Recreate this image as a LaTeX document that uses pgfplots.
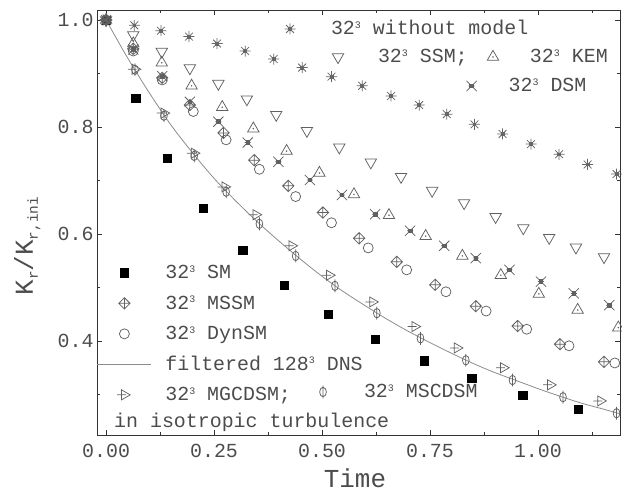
\documentclass[border=0pt]{standalone}
\usepackage{fontspec}
\setmainfont{Liberation Mono}
\usepackage{pgfplots}
\pgfplotsset{compat=1.18}

\definecolor{mk}{gray}{0.38}
\definecolor{txt}{gray}{0.3}
\definecolor{axc}{gray}{0.2}

\newcommand{\tc}{\raisebox{6.6bp}{\fontsize{10}{10}\selectfont 3}}
\newcommand{\lfont}{\fontsize{20}{22}\selectfont}

% 8-armed star with dark centre
\pgfdeclareplotmark{star8}{%
 \pgfpathmoveto{\pgfqpoint{-\pgfplotmarksize}{0pt}}\pgfpathlineto{\pgfqpoint{\pgfplotmarksize}{0pt}}%
 \pgfpathmoveto{\pgfqpoint{0pt}{-\pgfplotmarksize}}\pgfpathlineto{\pgfqpoint{0pt}{\pgfplotmarksize}}%
 \pgfpathmoveto{\pgfqpoint{-0.707\pgfplotmarksize}{-0.707\pgfplotmarksize}}\pgfpathlineto{\pgfqpoint{0.707\pgfplotmarksize}{0.707\pgfplotmarksize}}%
 \pgfpathmoveto{\pgfqpoint{-0.707\pgfplotmarksize}{0.707\pgfplotmarksize}}\pgfpathlineto{\pgfqpoint{0.707\pgfplotmarksize}{-0.707\pgfplotmarksize}}%
 \pgfusepathqstroke
 \pgfpathrectangle{\pgfqpoint{-0.25\pgfplotmarksize}{-0.25\pgfplotmarksize}}{\pgfqpoint{0.5\pgfplotmarksize}{0.5\pgfplotmarksize}}%
 \pgfusepathqfillstroke}
% X with dark centre (DSM)
\pgfdeclareplotmark{xbox}{%
 \pgfpathmoveto{\pgfqpoint{-0.85\pgfplotmarksize}{-0.85\pgfplotmarksize}}\pgfpathlineto{\pgfqpoint{0.85\pgfplotmarksize}{0.85\pgfplotmarksize}}%
 \pgfpathmoveto{\pgfqpoint{-0.85\pgfplotmarksize}{0.85\pgfplotmarksize}}\pgfpathlineto{\pgfqpoint{0.85\pgfplotmarksize}{-0.85\pgfplotmarksize}}%
 \pgfpathmoveto{\pgfqpoint{-0.5\pgfplotmarksize}{0pt}}\pgfpathlineto{\pgfqpoint{0.5\pgfplotmarksize}{0pt}}%
 \pgfusepathqstroke
 \pgfpathrectangle{\pgfqpoint{-0.3\pgfplotmarksize}{-0.3\pgfplotmarksize}}{\pgfqpoint{0.6\pgfplotmarksize}{0.6\pgfplotmarksize}}%
 \pgfusepathqfillstroke}
% triangle down
\pgfdeclareplotmark{tridown}{%
 \pgfpathmoveto{\pgfqpoint{0pt}{-\pgfplotmarksize}}%
 \pgfpathlineto{\pgfqpoint{-0.866\pgfplotmarksize}{0.5\pgfplotmarksize}}%
 \pgfpathlineto{\pgfqpoint{0.866\pgfplotmarksize}{0.5\pgfplotmarksize}}%
 \pgfpathclose\pgfusepathqstroke}
% triangle up with dot
\pgfdeclareplotmark{tridot}{%
 \pgfpathmoveto{\pgfqpoint{0pt}{\pgfplotmarksize}}%
 \pgfpathlineto{\pgfqpoint{-0.866\pgfplotmarksize}{-0.5\pgfplotmarksize}}%
 \pgfpathlineto{\pgfqpoint{0.866\pgfplotmarksize}{-0.5\pgfplotmarksize}}%
 \pgfpathclose\pgfusepathqstroke
 \pgfpathcircle{\pgfpointorigin}{0.13\pgfplotmarksize}\pgfusepathqfill}
% diamond with plus
\pgfdeclareplotmark{diamplus}{%
 \pgfpathmoveto{\pgfqpoint{0pt}{\pgfplotmarksize}}%
 \pgfpathlineto{\pgfqpoint{\pgfplotmarksize}{0pt}}%
 \pgfpathlineto{\pgfqpoint{0pt}{-\pgfplotmarksize}}%
 \pgfpathlineto{\pgfqpoint{-\pgfplotmarksize}{0pt}}%
 \pgfpathclose
 \pgfpathmoveto{\pgfqpoint{-\pgfplotmarksize}{0pt}}\pgfpathlineto{\pgfqpoint{\pgfplotmarksize}{0pt}}%
 \pgfpathmoveto{\pgfqpoint{0pt}{-\pgfplotmarksize}}\pgfpathlineto{\pgfqpoint{0pt}{\pgfplotmarksize}}%
 \pgfusepathqstroke}
% right triangle with stem
\pgfdeclareplotmark{triright}{%
 \pgfpathmoveto{\pgfqpoint{\pgfplotmarksize}{0pt}}%
 \pgfpathlineto{\pgfqpoint{-0.5\pgfplotmarksize}{0.866\pgfplotmarksize}}%
 \pgfpathlineto{\pgfqpoint{-0.5\pgfplotmarksize}{-0.866\pgfplotmarksize}}%
 \pgfpathclose
 \pgfpathmoveto{\pgfqpoint{-1.25\pgfplotmarksize}{0pt}}\pgfpathlineto{\pgfqpoint{0.3\pgfplotmarksize}{0pt}}%
 \pgfusepathqstroke}
% phi
\pgfdeclareplotmark{phi}{%
 \pgfpathellipse{\pgfpointorigin}{\pgfqpoint{0.6\pgfplotmarksize}{0pt}}{\pgfqpoint{0pt}{0.85\pgfplotmarksize}}%
 \pgfpathmoveto{\pgfqpoint{0pt}{-1.15\pgfplotmarksize}}\pgfpathlineto{\pgfqpoint{0pt}{1.15\pgfplotmarksize}}%
 \pgfusepathqstroke}

\pgfplotsset{
 mkleg/.style={legend image code/.code={\path[draw=none,fill=none] (-27bp,0bp) -- (#1,0bp);\draw[mark repeat=1,##1] plot coordinates {(0bp,0bp)};}},
 dnsleg/.style={legend image code/.code={\path[draw=none,fill=none] (-27bp,0bp) -- (41bp,0bp);\draw[##1] (-27bp,0bp) -- (27bp,0bp);}},
 geom/.style={scale only axis, width=523bp, height=425bp,
   xmin=-0.021, xmax=1.19, ymin=0.2243, ymax=1.0187},
 leg/.style={legend cell align=left,
   legend style={draw=none, fill=none, inner sep=0pt, outer sep=0pt, anchor=west,
     font=\lfont, text=txt, row sep=10.5bp,
     nodes={inner sep=0pt, text height=16bp, text depth=4bp}}},
 ovl/.style={geom, hide axis, leg},
 mstyle/.style={only marks, color=mk, mark options={solid, line width=0.75bp}},
}

\begin{document}
\begin{tikzpicture}
\begin{axis}[geom, leg,
  legend style={at={(0,0.238)}},
  xtick={0,0.25,0.5,0.75,1}, xticklabels={0.00,0.25,0.50,0.75,1.00},
  minor xtick={0.125,0.375,0.625,0.875,1.125},
  ytick={0.4,0.6,0.8,1.0}, yticklabels={0.4,0.6,0.8,1.0},
  minor ytick={0.3,0.5,0.7,0.9},
  tick align=inside,
  major tick length=5bp, minor tick length=3bp,
  tick style={line width=0.8bp, axc},
  axis line style={line width=0.8bp, axc},
  /pgf/number format/assume math mode=true,
  tick label style={font=\lfont, text=txt},
  xticklabel style={yshift=-6bp},
  xlabel={Time},
  every axis x label/.style={at={(axis description cs:0.4933,-0.1247)}, anchor=base,
     font=\fontsize{26}{28}\selectfont, text=txt},
  ylabel={K\raisebox{-5bp}{\fontsize{14.5}{15}\selectfont r}/K\raisebox{-5bp}{\fontsize{14.5}{15}\selectfont r,ini}},
  every axis y label/.style={at={(axis description cs:-0.1224,0.4447)}, anchor=base, rotate=90,
     font=\fontsize{26}{28}\selectfont, text=txt},
]
% 32^3 SM
\addplot[only marks, mark=square*, mark size=4.2bp, color=black, mkleg=41bp] coordinates {
 (0,1.0) (0.069,0.854) (0.142,0.742) (0.225,0.648) (0.316,0.570) (0.413,0.504)
 (0.515,0.450) (0.623,0.403) (0.736,0.363) (0.847,0.330) (0.965,0.299) (1.093,0.272)};
\addlegendentry{32\tc{} SM}
% 32^3 MSSM
\addplot[mstyle, mark=diamplus, mark size=5.7bp, mkleg=41bp] coordinates {
 (0,1.0) (0.063,0.946) (0.130,0.892) (0.194,0.841) (0.272,0.789) (0.343,0.738)
 (0.422,0.690) (0.502,0.640) (0.586,0.592) (0.673,0.548) (0.762,0.505) (0.856,0.465)
 (0.953,0.428) (1.051,0.394) (1.153,0.361)};
\addlegendentry{32\tc{} MSSM}
% 32^3 DynSM
\addplot[mstyle, mark=o, mark size=5bp, mkleg=41bp] coordinates {
 (0,1.0) (0.063,0.942) (0.130,0.888) (0.202,0.829) (0.278,0.776) (0.355,0.721)
 (0.439,0.670) (0.522,0.621) (0.607,0.574) (0.696,0.533) (0.787,0.492) (0.880,0.456)
 (0.974,0.422) (1.072,0.391) (1.178,0.359)};
\addlegendentry{32\tc{} DynSM}
% filtered 128^3 DNS
\addplot[no marks, color=black!45, line width=0.8bp, smooth, dnsleg] coordinates {
 (0,1.0) (0.05,0.929) (0.1,0.864) (0.15,0.804) (0.2,0.752) (0.25,0.704) (0.3,0.662)
 (0.35,0.623) (0.4,0.587) (0.45,0.553) (0.5,0.521) (0.55,0.492) (0.6,0.466)
 (0.65,0.441) (0.7,0.418) (0.75,0.397) (0.8,0.377) (0.85,0.358) (0.9,0.341)
 (0.95,0.326) (1.0,0.311) (1.05,0.297) (1.1,0.284) (1.15,0.273) (1.19,0.264)};
\addlegendentry{filtered 128\tc{} DNS}
% 32^3 MGCDSM
\addplot[mstyle, mark=triright, mark size=5.8bp, mkleg=41bp] coordinates {
 (0,1.0) (0.067,0.908) (0.134,0.826) (0.204,0.751) (0.275,0.688) (0.347,0.636)
 (0.430,0.578) (0.517,0.523) (0.617,0.473) (0.715,0.427) (0.813,0.387) (0.920,0.350)
 (1.029,0.318) (1.145,0.288)};
\addlegendentry{32\tc{} MGCDSM;}
% 32^3 MSCDSM
\addplot[mstyle, mark=phi, mark size=5.6bp, forget plot] coordinates {
 (0,1.0) (0.067,0.907) (0.134,0.821) (0.204,0.746) (0.278,0.679) (0.355,0.619)
 (0.439,0.559) (0.530,0.503) (0.627,0.452) (0.728,0.405) (0.833,0.364) (0.941,0.327)
 (1.058,0.295) (1.182,0.265)};
% 32^3 without model
\addplot[mstyle, mark=star8, mark size=5.5bp, forget plot, color=black!60, fill=black!60] coordinates {
 (0,1.0) (0.0655,0.990) (0.127,0.980) (0.192,0.969) (0.257,0.956) (0.322,0.942)
 (0.388,0.927) (0.454,0.911) (0.522,0.894) (0.593,0.877) (0.660,0.858) (0.725,0.841)
 (0.789,0.824) (0.853,0.805) (0.918,0.787) (0.984,0.768) (1.049,0.749) (1.115,0.730)
 (1.182,0.712)};
% 32^3 SSM
\addplot[mstyle, mark=tridown, mark size=6.6bp, forget plot] coordinates {
 (0,1.0) (0.063,0.972) (0.129,0.941) (0.194,0.910) (0.260,0.881) (0.326,0.852)
 (0.394,0.823) (0.465,0.793) (0.540,0.762) (0.613,0.734) (0.683,0.707) (0.755,0.681)
 (0.829,0.658) (0.902,0.632) (0.966,0.611) (1.026,0.593) (1.088,0.575) (1.153,0.557)};
% 32^3 KEM
\addplot[mstyle, mark=tridot, mark size=6.6bp, forget plot, fill=mk] coordinates {
 (0,1.0) (0.063,0.956) (0.129,0.920) (0.198,0.877) (0.269,0.837) (0.341,0.797)
 (0.418,0.755) (0.494,0.714) (0.574,0.674) (0.655,0.635) (0.740,0.596) (0.825,0.559)
 (0.914,0.523) (1.002,0.488) (1.092,0.458) (1.186,0.425)};
% 32^3 DSM
\addplot[mstyle, mark=xbox, mark size=6bp, forget plot, fill=mk] coordinates {
 (0,1.0) (0.063,0.945) (0.130,0.895) (0.194,0.847) (0.260,0.810) (0.328,0.771)
 (0.399,0.735) (0.472,0.701) (0.546,0.673) (0.623,0.637) (0.704,0.606) (0.783,0.578)
 (0.856,0.555) (0.934,0.533) (1.007,0.511) (1.083,0.489) (1.165,0.467)};
\node[anchor=base west, inner sep=0pt, font=\lfont, text=txt] at (axis description cs:0.0325,0.0165) {in isotropic turbulence};
\end{axis}
% separate legends
\begin{axis}[ovl, legend style={at={(0.3174,0.9553)}}]
\addlegendimage{mstyle, mark=star8, mark size=5.5bp, color=black!60, fill=black!60, mkleg=41bp}
\addlegendentry{32\tc{} without model}
\end{axis}
\begin{axis}[ovl, legend style={at={(0.4092,0.8894)}}]
\addlegendimage{mstyle, mark=tridown, mark size=6.6bp, mkleg=40bp}
\addlegendentry{32\tc{} SSM;}
\end{axis}
\begin{axis}[ovl, legend style={at={(0.7055,0.8894)}}]
\addlegendimage{mstyle, mark=tridot, mark size=6.6bp, fill=mk, mkleg=37bp}
\addlegendentry{32\tc{} KEM}
\end{axis}
\begin{axis}[ovl, legend style={at={(0.6647,0.8212)}}]
\addlegendimage{mstyle, mark=xbox, mark size=6bp, fill=mk, mkleg=37bp}
\addlegendentry{32\tc{} DSM}
\end{axis}
\begin{axis}[ovl, legend style={at={(0.3805,0.1012)}}]
\addlegendimage{mstyle, mark=phi, mark size=5.6bp, mkleg=41bp}
\addlegendentry{32\tc{} MSCDSM}
\end{axis}
\pgfresetboundingbox
\useasboundingbox (-97bp,-58bp) rectangle (525bp,435bp);
\end{tikzpicture}
\end{document}
